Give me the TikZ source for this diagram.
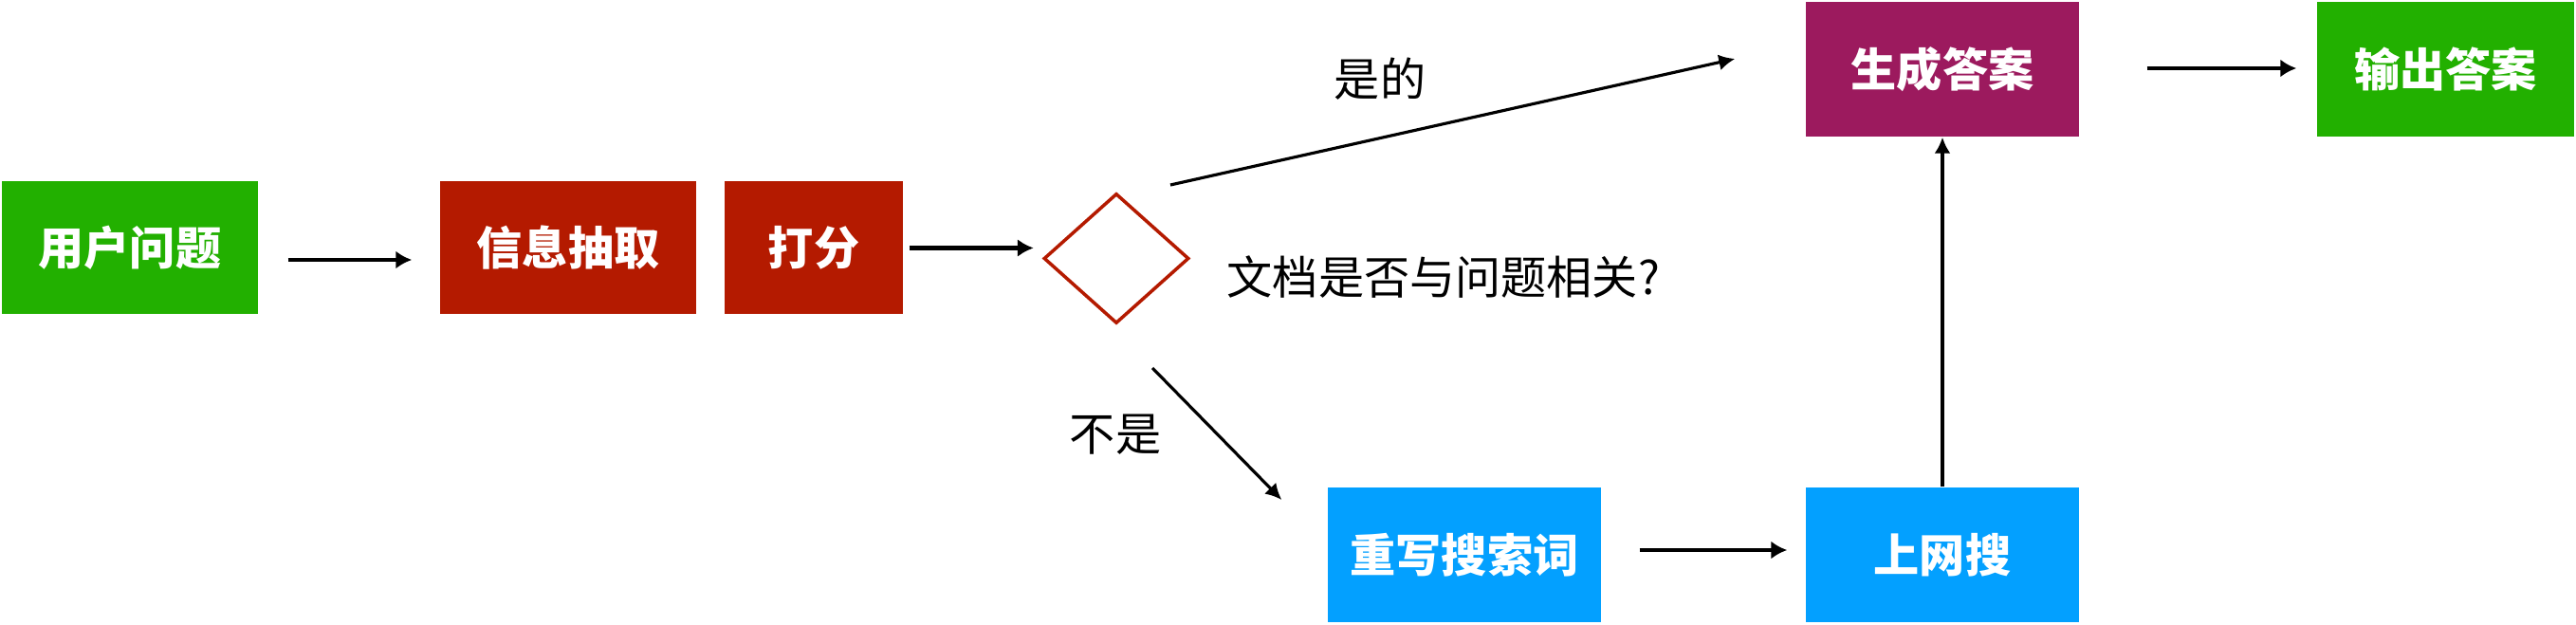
\documentclass[tikz,border=0pt]{standalone}
\usepackage{fontspec}
\usepackage{tikz}
\usetikzlibrary{arrows.meta,shapes.geometric}
\newfontfamily\cjk{Noto Sans CJK SC}
\definecolor{boxgreen}{RGB}{34,176,0}
\definecolor{boxred}{RGB}{180,26,0}
\definecolor{boxpurple}{RGB}{156,26,94}
\definecolor{boxblue}{RGB}{3,160,255}

\begin{document}
\begin{tikzpicture}[
		stepbox/.style={rectangle, inner sep=0, minimum height=1.40cm, text=white, font=\cjk\bfseries\fontsize{13.7pt}{16pt}\selectfont},
		lbl/.style={inner sep=0, font=\cjk\fontsize{13.7pt}{16pt}\selectfont},
		arr/.style={line width=1.3pt, -{Latex[length=0.17cm, width=0.19cm]}},
		thinarr/.style={line width=0.9pt, -{Latex[length=0.17cm, width=0.17cm]}}]
				\useasboundingbox (0,0) rectangle (27.16,6.58);
				\node[stepbox, fill=boxgreen, minimum width=2.70cm] (q) at (1.37,3.965) {用户问题};
				\node[stepbox, fill=boxred, minimum width=2.70cm] (ext) at (5.99,3.965) {信息抽取};
				\node[stepbox, fill=boxred, minimum width=1.88cm] (score) at (8.58,3.965) {打分};
				\node[diamond, draw=boxred, line width=1pt, inner sep=0, aspect=1.115, minimum width=1.53cm, minimum height=1.37cm] (dia) at (11.77,3.855) {};
				\node[stepbox, fill=boxpurple, minimum width=2.88cm, minimum height=1.42cm] (gen) at (20.48,5.85) {生成答案};
				\node[stepbox, fill=boxgreen, minimum width=2.71cm, minimum height=1.42cm] (out) at (25.785,5.85) {输出答案};
				\node[stepbox, fill=boxblue, minimum width=2.88cm, minimum height=1.42cm] (rw) at (15.44,0.73) {重写搜索词};
				\node[stepbox, fill=boxblue, minimum width=2.88cm, minimum height=1.42cm] (web) at (20.48,0.73) {上网搜};
				
				\node[lbl] (yesl) at (14.55,5.75) {是的};
				\node[lbl] (nol) at (11.76,2.00) {不是};
				\node[lbl, anchor=west] (ql) at (12.93,3.66) {文档是否与问题相关?};
				
				% free ends of the two branches
				\coordinate (yesa) at ([xshift=0.57cm, yshift=0.775cm]dia.center);
				\coordinate (yesb) at ([xshift=-0.74cm, yshift=0.11cm]gen.west);
				\coordinate (noa) at ([xshift=0.38cm, yshift=-1.155cm]dia.center);
				\coordinate (nob) at ([xshift=-0.48cm, yshift=0.58cm]rw.west);
				
				\draw[arr] ([xshift=0.31cm, yshift=-0.125cm]q.east) -- ([xshift=-0.29cm, yshift=-0.125cm]ext.west);
				\draw[arr] ([xshift=0.06cm]score.east) -- ([xshift=-0.09cm]score.east -| dia.west);
				\draw[thinarr] (yesa) -- (yesb);
				\draw[thinarr] (noa) -- (nob);
				\draw[arr] ([xshift=0.71cm, yshift=0.01cm]gen.east) -- ([xshift=-0.21cm, yshift=0.01cm]out.west);
				\draw[arr] ([xshift=0.40cm, yshift=0.05cm]rw.east) -- ([xshift=-0.19cm, yshift=0.05cm]web.west);
				\draw[thinarr] (web.north) -- (gen.south);
			\end{tikzpicture}
\end{document}
